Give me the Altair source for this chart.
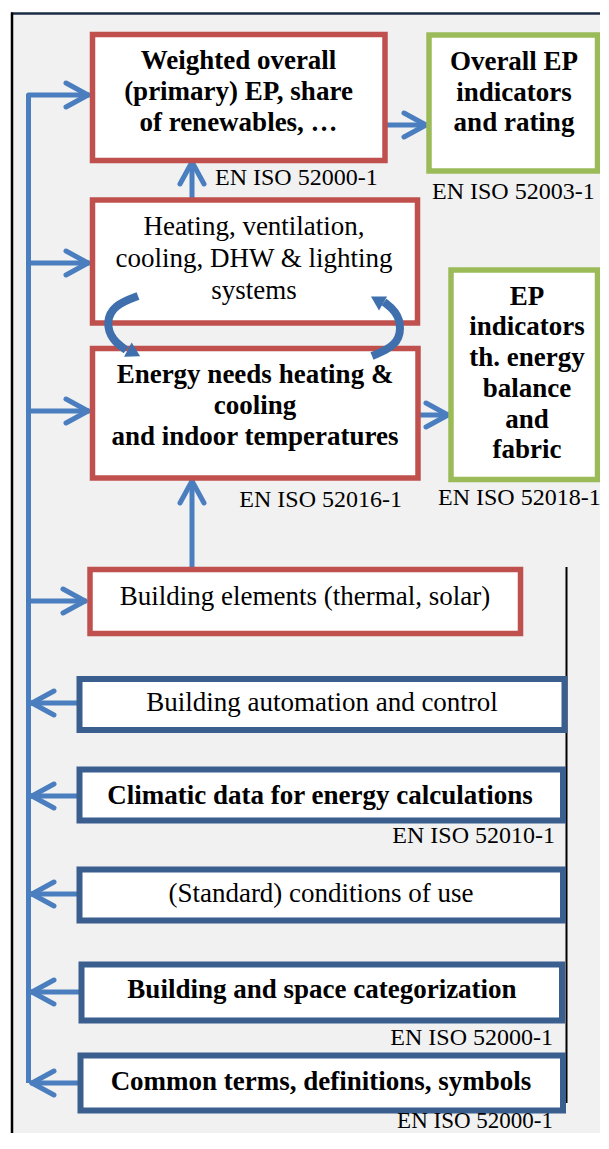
import altair as alt
import pandas as pd

# ---------------- data (diagram geometry) ----------------
box_name = ["weighted", "overall", "systems", "needs", "epind", "elements",
            "automation", "climatic", "conditions", "categorization", "terms"]
box_x0 = [92.5, 429, 92.5, 92.5, 451, 90, 79.5, 79.5, 79.5, 81.5, 80.5]
box_x1 = [385, 597.5, 417.5, 418, 597.5, 520.5, 564.5, 563, 563, 562, 563]
box_y0 = [34.5, 35, 200, 348.5, 270, 569.5, 679, 769.5, 869.5, 964.5, 1055.5]
box_y1 = [160.5, 171, 323, 478, 479.5, 633.5, 730, 820.5, 920.5, 1020.5, 1110.5]
box_col = ["#c0504d", "#9bbb59", "#c0504d", "#c0504d", "#9bbb59", "#c0504d",
           "#3a5f8f", "#3a5f8f", "#3a5f8f", "#3a5f8f", "#3a5f8f"]
box_sw = [5.5, 5.5, 5.5, 5.5, 5.5, 5.5, 6, 6, 6, 6, 6]

bold_text = ["Weighted overall", "(primary) EP, share", "of renewables, \u2026",
             "Overall EP", "indicators", "and rating",
             "Energy needs heating &", "cooling", "and indoor temperatures",
             "EP", "indicators", "th. energy", "balance", "and", "fabric",
             "Climatic data for energy calculations",
             "Building and space categorization",
             "Common terms, definitions, symbols"]
bold_x = [238.5, 238.5, 238.5, 514, 514, 514, 255, 255, 255,
          527, 527, 527, 527, 527, 527, 320, 322, 321]
bold_y = [61, 92, 123, 62, 93, 123, 375, 406, 437,
          297, 327, 358, 389, 420, 450, 796, 990, 1082]

reg_text = ["Heating, ventilation,", "cooling, DHW & lighting", "systems",
            "Building elements (thermal, solar)",
            "Building automation and control",
            "(Standard) conditions of use"]
reg_x = [254, 254, 254, 305, 322, 321]
reg_y = [227, 259, 291, 597, 703, 894]

std_left = ["EN ISO 52000-1", "EN ISO 52003-1", "EN ISO 52018-1"]
std_left_x = [215, 432, 438]
std_left_y = [178, 192, 498]
std_right = ["EN ISO 52016-1", "EN ISO 52010-1", "EN ISO 52000-1", "EN ISO 52000-1"]
std_right_x = [402, 555, 553, 553]
std_right_y = [500, 836, 1038, 1121]

# straight arrows: start point -> tip point
arr_x0 = [28.5, 28.5, 28.5, 28.5, 80, 80, 80, 82, 81, 192, 192, 385, 418]
arr_y0 = [95, 263, 411, 601, 703, 796, 894, 992, 1083, 198, 569, 125, 415]
arr_x1 = [88, 88, 88, 85, 32, 32, 32, 32, 32, 192, 192, 426, 448]
arr_y1 = [95, 263, 411, 601, 703, 796, 894, 992, 1083, 162, 481, 125, 415]

trunk_x = [28.5, 28.5]
trunk_y = [95, 1083]

curve_id = ["a"] * 5 + ["b"] * 5
curve_ord = [0, 1, 2, 3, 4] * 2
curve_x = [138, 114, 106, 112, 126, 372, 396, 402, 396, 384]
curve_y = [296, 305, 322, 340, 350, 356, 346, 328, 311, 302]
head_x = [134, 377]
head_y = [353, 300]
head_shape = ["triangle-right", "triangle-left"]
head_angle = [28, 30]

# ---------------- scales: chart pixel == reference pixel ----------------
PW, PH = 592, 1125
X0, Y0 = 8, 8
XS = alt.Scale(domain=[X0, X0 + PW], nice=False, zero=False)
YS = alt.Scale(domain=[Y0, Y0 + PH], nice=False, zero=False, reverse=True)


def X(f="x"):
    return alt.X(f"{f}:Q", scale=XS, axis=None)


def Y(f="y"):
    return alt.Y(f"{f}:Q", scale=YS, axis=None)


BLUE = "#4a7ebf"
FONT = "Liberation Serif"

bg = alt.Chart(pd.DataFrame({"x": [12], "x2": [X0 + PW], "y": [13], "y2": [Y0 + PH]})).mark_rect(
    fill="#f1f1f1").encode(x=X(), x2="x2:Q", y=Y(), y2="y2:Q")
frame_top = alt.Chart(pd.DataFrame({"x": [11], "x2": [X0 + PW], "y": [13.5]})).mark_rule(
    color="#1c2b45", strokeWidth=2.5).encode(x=X(), x2="x2:Q", y=Y())
frame_left = alt.Chart(pd.DataFrame({"x": [12], "y": [12.5], "y2": [Y0 + PH]})).mark_rule(
    color="#000000", strokeWidth=2.5).encode(x=X(), y=Y(), y2="y2:Q")
frame_right = alt.Chart(pd.DataFrame({"x": [566.5], "y": [567], "y2": [1103]})).mark_rule(
    color="#000000", strokeWidth=2).encode(x=X(), y=Y(), y2="y2:Q")

bdf = pd.DataFrame({"name": box_name, "x": box_x0, "x2": box_x1, "y": box_y0,
                    "y2": box_y1, "col": box_col, "sw": box_sw})
boxes = alt.Chart(bdf).mark_rect(fill="white").encode(
    x=X(), x2="x2:Q", y=Y(), y2="y2:Q",
    stroke=alt.Stroke("col:N", scale=None),
    strokeWidth=alt.StrokeWidth("sw:Q", scale=None))

trunk = alt.Chart(pd.DataFrame({"x": [trunk_x[0]], "y": [trunk_y[0]], "y2": [trunk_y[1]]})).mark_rule(
    color=BLUE, strokeWidth=5).encode(x=X(), y=Y(), y2="y2:Q")

adf = pd.DataFrame({"x": arr_x0, "y": arr_y0, "x2": arr_x1, "y2": arr_y1})
shafts = alt.Chart(adf).mark_rule(color=BLUE, strokeWidth=5, strokeCap="round").encode(
    x=X(), y=Y(), x2="x2:Q", y2="y2:Q")

rows = []
for x0, y0, x1, y1 in zip(arr_x0, arr_y0, arr_x1, arr_y1):
    dx, dy = x1 - x0, y1 - y0
    n = (dx * dx + dy * dy) ** 0.5
    ux, uy = dx / n, dy / n
    for s in (1, -1):
        rows.append({"x": x1, "y": y1,
                     "x2": x1 - 22 * ux + s * 12 * (-uy),
                     "y2": y1 - 22 * uy + s * 12 * ux})
heads = alt.Chart(pd.DataFrame(rows)).mark_rule(color=BLUE, strokeWidth=5, strokeCap="round").encode(
    x=X(), y=Y(), x2="x2:Q", y2="y2:Q")

cdf = pd.DataFrame({"id": curve_id, "o": curve_ord, "x": curve_x, "y": curve_y})
curves = alt.Chart(cdf).mark_line(color="#3f70ad", strokeWidth=8, interpolate="basis").encode(
    x=X(), y=Y(), detail="id:N", order="o:Q")
hdf = pd.DataFrame({"x": head_x, "y": head_y, "shape": head_shape, "ang": head_angle})
cheads = alt.Chart(hdf).mark_point(filled=True, color="#3f70ad", size=260, opacity=1).encode(
    x=X(), y=Y(), shape=alt.Shape("shape:N", scale=None),
    angle=alt.Angle("ang:Q", scale=None))

t_bold = alt.Chart(pd.DataFrame({"t": bold_text, "x": bold_x, "y": bold_y})).mark_text(
    font=FONT, fontSize=27, fontWeight="bold", color="black", align="center", baseline="middle").encode(
    x=X(), y=Y(), text="t:N")
t_reg = alt.Chart(pd.DataFrame({"t": reg_text, "x": reg_x, "y": reg_y})).mark_text(
    font=FONT, fontSize=27, color="black", align="center", baseline="middle").encode(
    x=X(), y=Y(), text="t:N")
t_sl = alt.Chart(pd.DataFrame({"t": std_left, "x": std_left_x, "y": std_left_y})).mark_text(
    font=FONT, fontSize=24, color="black", align="left", baseline="middle").encode(
    x=X(), y=Y(), text="t:N")
t_sr = alt.Chart(pd.DataFrame({"t": std_right[:3], "x": std_right_x[:3], "y": std_right_y[:3]})).mark_text(
    font=FONT, fontSize=24, color="black", align="right", baseline="middle").encode(
    x=X(), y=Y(), text="t:N")
t_last = alt.Chart(pd.DataFrame({"t": std_right[3:], "x": std_right_x[3:], "y": std_right_y[3:]})).mark_text(
    font=FONT, fontSize=23, color="black", align="right", baseline="middle").encode(
    x=X(), y=Y(), text="t:N")

chart = alt.layer(
    bg, frame_top, frame_left, frame_right, trunk, shafts, heads, boxes,
    curves, cheads, t_bold, t_reg, t_sl, t_sr, t_last
).properties(
    width=PW, height=PH, padding=0, background="white",
    autosize=alt.AutoSizeParams(type="none")
).configure_view(stroke=None)

chart.save("out.html", embed_options={"renderer": "svg", "actions": False})
